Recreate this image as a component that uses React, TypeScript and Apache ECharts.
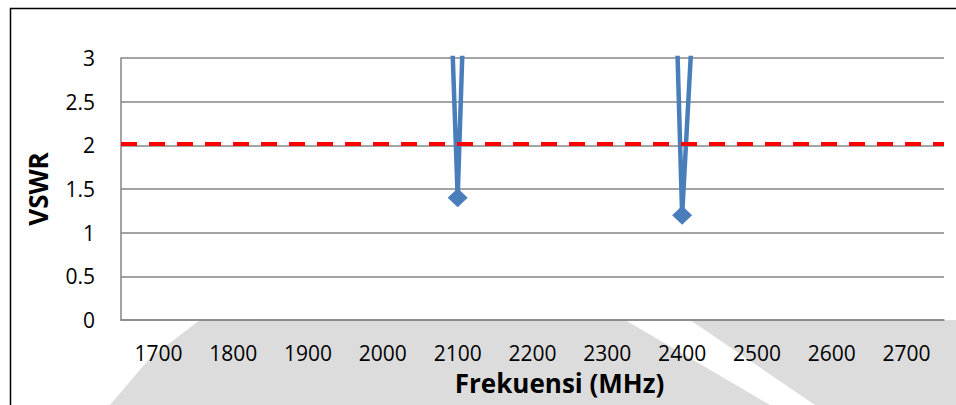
import React, { useEffect, useRef } from "react";
import * as echarts from "echarts";

// Frequency sweep points (MHz) and measured VSWR at each point
const categories = ["1700", "1800", "1900", "2000", "2100", "2200", "2300", "2400", "2500", "2600", "2700"];
const vswrValues = [38, 34, 30, 26, 1.4, 28, 31, 1.2, 17, 24, 33];
// VSWR acceptance limit
const vswrLimit = 2.02;
// Value axis range
const yMin = 0;
const yMax = 3;
const yStep = 0.5;

const FONT = "'Open Sans', 'Noto Sans', sans-serif";
const BLUE = "#4A7EBB";
const GRID_GRAY = "#868686";
const SWOOSH = "#dcdcdc";

export default function App() {
  const ref = useRef<HTMLDivElement>(null);

  useEffect(() => {
    if (!ref.current) return;
    const chart = echarts.init(ref.current, undefined, { renderer: "svg" });

    const seriesData = vswrValues.map((v) => ({
      value: v,
      symbol: v > yMax ? "none" : "diamond",
    }));

    chart.setOption({
      animation: false,
      backgroundColor: "#ffffff",
      textStyle: { fontFamily: FONT },
      graphic: [
        // background swoosh below the plot
        {
          type: "polygon",
          z: -10,
          silent: true,
          shape: {
            points: [
              [200, 320], [625, 320], [770, 405], [110, 405], [150, 358],
            ],
          },
          style: { fill: SWOOSH },
        },
        {
          type: "polygon",
          z: -10,
          silent: true,
          shape: {
            points: [
              [690, 320], [956, 320], [956, 405], [815, 405],
            ],
          },
          style: { fill: SWOOSH },
        },
        // chart frame
        {
          type: "rect",
          z: 50,
          silent: true,
          shape: { x: 10.5, y: 8.5, width: 980, height: 430 },
          style: { fill: "none", stroke: "#000", lineWidth: 1.5 },
        },
      ],
      grid: {
        left: 121,
        top: 58,
        right: 12,
        bottom: 85,
        show: true,
        backgroundColor: "#ffffff",
        borderWidth: 0,
      },
      xAxis: {
        type: "category",
        data: categories,
        boundaryGap: true,
        axisLine: { show: true, lineStyle: { color: GRID_GRAY, width: 1.5 } },
        axisTick: { show: false },
        axisLabel: { fontSize: 21, color: "#000", margin: 22, fontFamily: FONT },
        splitLine: { show: false },
        name: "Frekuensi (MHz)",
        nameLocation: "middle",
        nameGap: 50,
        nameTextStyle: {
          fontSize: 26,
          fontWeight: "bold",
          color: "#000",
          fontFamily: FONT,
          padding: [0, 0, 0, 54],
        },
      },
      yAxis: {
        type: "value",
        min: yMin,
        max: yMax,
        interval: yStep,
        axisLine: { show: true, lineStyle: { color: GRID_GRAY, width: 1.5 } },
        axisTick: { show: false },
        axisLabel: { fontSize: 21, color: "#000", margin: 26, fontFamily: FONT },
        splitLine: { show: true, lineStyle: { color: GRID_GRAY, width: 1.5 } },
        name: "VSWR",
        nameLocation: "middle",
        nameGap: 70,
        nameTextStyle: {
          fontSize: 26,
          fontWeight: "bold",
          color: "#000",
          fontFamily: FONT,
        },
      },
      series: [
        {
          type: "line",
          data: seriesData,
          clip: true,
          symbolSize: [20, 19],
          showAllSymbol: true,
          lineStyle: { color: BLUE, width: 4.5 },
          itemStyle: { color: BLUE },
          markLine: {
            silent: true,
            symbol: "none",
            label: { show: false },
            lineStyle: { color: "#FF0000", width: 4, type: [16, 12] },
            data: [{ yAxis: vswrLimit }],
          },
        },
      ],
    });

    return () => chart.dispose();
  }, []);

  return (
    <div
      ref={ref}
      style={{ position: "fixed", left: 0, top: 0, width: 956, height: 405 }}
    />
  );
}
